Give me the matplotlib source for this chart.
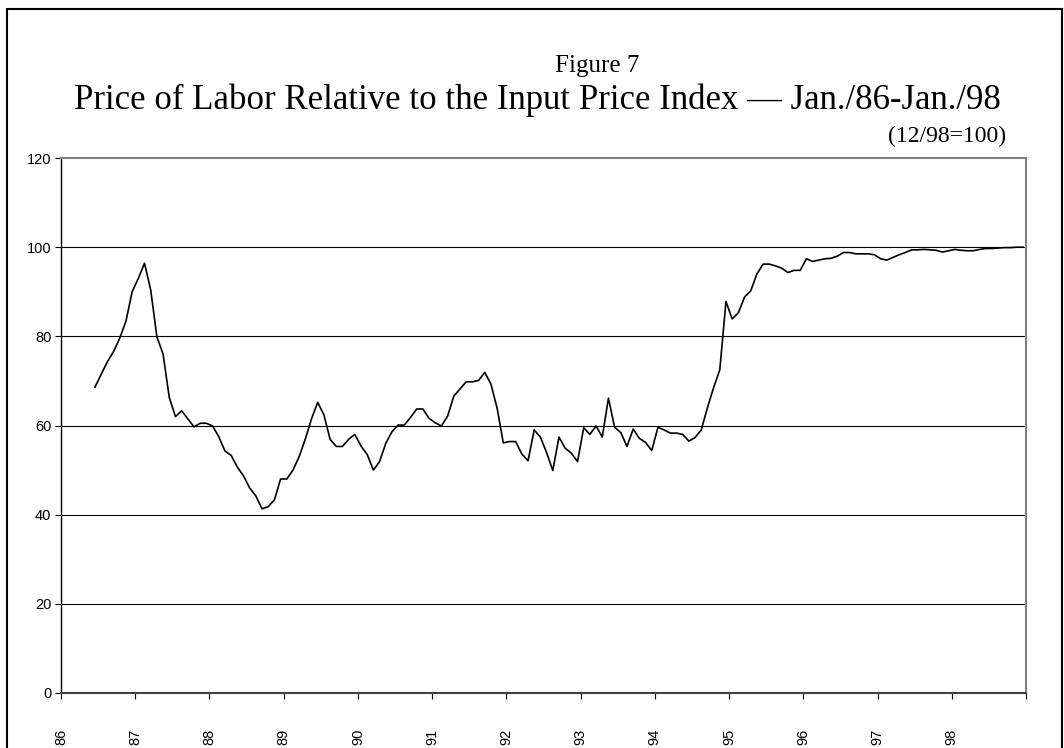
import numpy as np
import matplotlib.pyplot as plt
from matplotlib.patches import Rectangle

# monthly values, Jun/86 .. Dec/98  (12/98=100)
values_86 = [68.6, 71.5, 74.3, 76.6, 79.6, 83.4, 90.0]
values_87 = [93.0, 96.4, 90.4, 79.9, 76.0, 66.3, 62.0, 63.3, 61.5, 59.7, 60.5, 60.5]
values_88 = [59.9, 57.5, 54.3, 53.3, 50.7, 48.7, 46.0, 44.2, 41.3, 41.8, 43.3, 48.0]
values_89 = [48.0, 50.0, 53.0, 57.0, 61.5, 65.2, 62.4, 56.9, 55.3, 55.3, 56.9, 58.0]
values_90 = [55.4, 53.5, 50.0, 51.9, 56.0, 58.6, 60.1, 60.1, 61.8, 63.7, 63.7, 61.6]
values_91 = [60.6, 59.9, 62.1, 66.6, 68.2, 69.8, 69.8, 70.1, 71.9, 69.3, 63.9, 56.1]
values_92 = [56.4, 56.4, 53.6, 52.1, 59.0, 57.4, 53.9, 49.9, 57.4, 54.9, 53.8, 51.9]
values_93 = [59.5, 58.0, 59.9, 57.4, 66.1, 59.6, 58.4, 55.3, 59.2, 57.1, 56.2, 54.4]
values_94 = [59.6, 59.0, 58.3, 58.3, 58.0, 56.5, 57.3, 59.0, 64.0, 68.5, 72.5, 87.8]
values_95 = [83.9, 85.3, 88.8, 90.2, 94.0, 96.2, 96.2, 95.8, 95.3, 94.3, 94.8, 94.8]
values_96 = [97.4, 96.8, 97.1, 97.4, 97.5, 98.0, 98.8, 98.8, 98.5, 98.5, 98.5, 98.3]
values_97 = [97.4, 97.1, 97.7, 98.3, 98.8, 99.4, 99.4, 99.5, 99.4, 99.3, 98.9, 99.2]
values_98 = [99.5, 99.3, 99.2, 99.2, 99.5, 99.7, 99.7, 99.8, 99.9, 99.9, 100.0, 100.0]

first_month = 5  # Jun/86, months counted from Jan/86
years = [86, 87, 88, 89, 90, 91, 92, 93, 94, 95, 96, 97, 98]
tick_labels = [str(y) for y in years] + [""]
y_ticks = [0, 20, 40, 60, 80, 100, 120]

values = (values_86 + values_87 + values_88 + values_89 + values_90 + values_91 +
          values_92 + values_93 + values_94 + values_95 + values_96 + values_97 + values_98)
months = np.arange(first_month, first_month + len(values)) + 0.5

fig = plt.figure(figsize=(10.64, 7.48), dpi=100)
ax = fig.add_axes([61/1064, 1 - 693/748, 965/1064, 535/748])

for y in y_ticks[1:-1]:
    ax.axhline(y, color="black", lw=0.8, zorder=1)

ax.plot(months, values, color="black", lw=1.2, zorder=3)

ax.set_xlim(0, 12 * len(years))
ax.set_ylim(0, 120)
ax.set_xticks(np.arange(0, 12 * len(years) + 1, 12))
ax.set_xticklabels(tick_labels, rotation=90, family="Liberation Sans", fontsize=10.5,
                   va="top", ha="center")
ax.set_yticks(y_ticks)
ax.set_yticklabels([str(v) for v in y_ticks], family="Liberation Sans", fontsize=10.5)
ax.tick_params(axis="x", direction="out", length=4, width=0.8, pad=22)
ax.tick_params(axis="y", direction="out", length=4, width=0.8, pad=3)

ax.spines["left"].set_color("black")
ax.spines["left"].set_linewidth(1.0)
ax.spines["bottom"].set_color("#404040")
ax.spines["bottom"].set_linewidth(1.5)
ax.spines["top"].set_color("#808080")
ax.spines["top"].set_linewidth(1.5)
ax.spines["right"].set_color("#808080")
ax.spines["right"].set_linewidth(1.5)

fig.text(597/1064, 1 - 66/748, "Figure 7", family="Liberation Serif", fontsize=18,
         ha="center", va="center")
fig.text(537/1064, 1 - 100/748,
         "Price of Labor Relative to the Input Price Index \u2014 Jan./86-Jan./98",
         family="Liberation Serif", fontsize=25, ha="center", va="center")
fig.text(1006/1064, 1 - 136/748, "(12/98=100)", family="Liberation Serif", fontsize=17,
         ha="right", va="center")

# outer frame, bottom edge falls off the picture
fig.patches.append(Rectangle((7/1064, -0.05), (1062 - 7)/1064, 1.05 - 9/748,
                             transform=fig.transFigure, fill=False, ec="black",
                             lw=1.5, clip_on=False))

fig.savefig("out.png", dpi=100)
